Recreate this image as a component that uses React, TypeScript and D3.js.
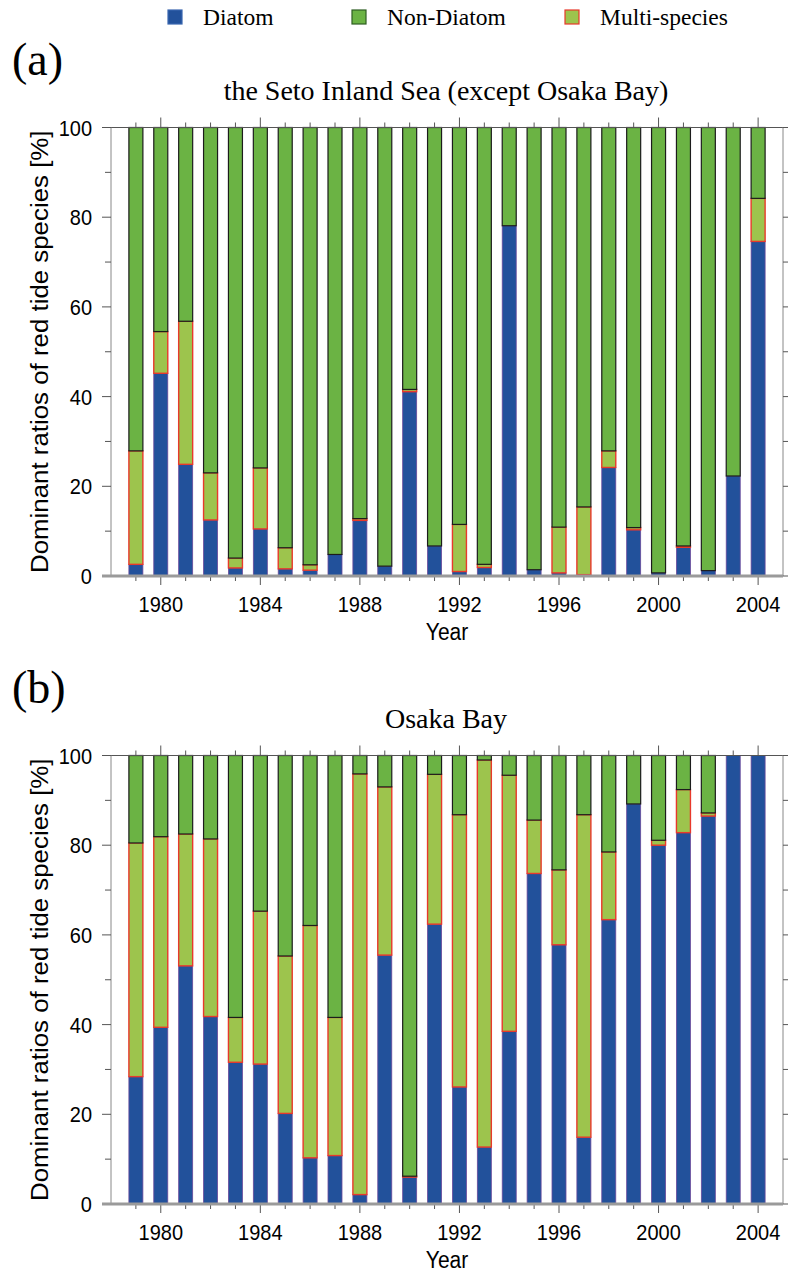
import React from "react";
import * as d3 from "d3";

const years = d3.range(1979, 2005);

// (a) the Seto Inland Sea (except Osaka Bay)
const diatomA = [2.6, 45.2, 24.9, 12.5, 1.8, 10.5, 1.6, 1.3, 4.8, 12.4, 2.2, 41.1, 6.7, 1.0, 1.9, 78.1, 1.4, 0.7, 0.3, 24.2, 10.3, 0.7, 6.4, 1.2, 22.3, 74.6];
const multiA = [25.3, 9.3, 31.9, 10.5, 2.2, 13.6, 4.7, 1.2, 0, 0.4, 0, 0.5, 0, 10.5, 0.7, 0, 0, 10.2, 15.1, 3.7, 0.5, 0, 0.3, 0, 0, 9.6];
const nonA = [72.1, 45.5, 43.2, 77.0, 96.0, 75.9, 93.7, 97.5, 95.2, 87.2, 97.8, 58.4, 93.3, 88.5, 97.4, 21.9, 98.6, 89.1, 84.6, 72.1, 89.2, 99.3, 93.3, 98.8, 77.7, 15.8];

// (b) Osaka Bay
const diatomB = [28.4, 39.4, 53.1, 41.8, 31.6, 31.2, 20.2, 10.3, 10.8, 2.1, 55.5, 6.0, 62.4, 26.1, 12.7, 38.5, 73.7, 57.8, 14.9, 63.4, 89.2, 80.0, 82.8, 86.5, 100, 100];
const multiB = [52.1, 42.5, 29.4, 39.6, 10.0, 34.1, 35.1, 51.8, 30.8, 93.8, 37.5, 0.2, 33.4, 60.7, 86.3, 57.1, 11.9, 16.7, 71.9, 15.1, 0, 1.1, 9.6, 0.7, 0, 0];
const nonB = [19.5, 18.1, 17.5, 18.6, 58.4, 34.7, 44.7, 37.9, 58.4, 4.1, 7.0, 93.8, 4.2, 13.2, 1.0, 4.4, 14.4, 25.5, 13.2, 21.5, 10.8, 18.9, 7.6, 12.8, 0, 0];

const keys = ["Diatom", "Multi-species", "Non-Diatom"];
const legendOrder = ["Diatom", "Non-Diatom", "Multi-species"];
const yTicks = [0, 20, 40, 60, 80, 100];
const xLabelYears = [1980, 1984, 1988, 1992, 1996, 2000, 2004];

const style: Record<string, { fill: string; stroke: string; sw: number }> = {
  Diatom: { fill: "#22519b", stroke: "#6a4a9c", sw: 0.8 },
  "Non-Diatom": { fill: "#6bb344", stroke: "#1c1c1c", sw: 1.2 },
  "Multi-species": { fill: "#9dc44d", stroke: "#e8392b", sw: 1.4 },
};

const W = 788;
const H = 1273;
const left = 111;
const right = 783;
const plotH = 448.5;
const sans = "'Liberation Sans', Arial, Helvetica, sans-serif";
const serif = "'Liberation Serif', 'Times New Roman', serif";

const x = d3.scaleLinear().domain([1978, 2005]).range([left, right]);
const barW = 14;

function Panel({ top, tag, title, diatom, multi, non }: { top: number; tag: string; title: string; diatom: number[]; multi: number[]; non: number[] }) {
  const y = d3.scaleLinear().domain([0, 100]).range([top + plotH, top]);
  const rows = years.map((yr, i) => ({ year: yr, Diatom: diatom[i], "Multi-species": multi[i], "Non-Diatom": non[i] }));
  const series = d3.stack<any>().keys(keys)(rows);
  const bottom = y(0);
  const ax = "#555";
  return (
    <g>
      <text x={12} y={top - 53} fontFamily={serif} fontSize={46}>{tag}</text>
      <text x={446} y={top - 28} fontFamily={serif} fontSize={28} textAnchor="middle">{title}</text>

      {/* bars */}
      {series.map((s) =>
        s.map((d, i) => {
          const h = y(d[0]) - y(d[1]);
          if (h <= 0.01) return null;
          const st = style[s.key];
          return (
            <rect key={s.key + i} x={x(years[i]) - barW / 2} y={y(d[1])} width={barW} height={h}
              fill={st.fill} stroke={st.stroke} strokeWidth={st.sw} />
          );
        })
      )}

      {/* frame lines */}
      <line x1={left - 9} x2={right} y1={y(100)} y2={y(100)} stroke={ax} strokeWidth={1} />
      <line x1={left} x2={left} y1={y(100)} y2={bottom} stroke="#888" strokeWidth={1} />
      <line x1={right} x2={right} y1={y(100)} y2={bottom} stroke="#888" strokeWidth={1} />

      {/* y ticks */}
      {d3.range(0, 101, 10).map((v) => {
        const len = v % 20 === 0 ? 9 : 6;
        return (
          <g key={"yt" + v}>
            <line x1={left - len} x2={left} y1={y(v)} y2={y(v)} stroke={ax} />
            <line x1={right} x2={right + len} y1={y(v)} y2={y(v)} stroke={ax} />
          </g>
        );
      })}
      {yTicks.map((v) => (
        <text key={"yl" + v} transform={`translate(92,${y(v) + 8}) scale(1,1.12)`} textAnchor="end" fontFamily={sans} fontSize={20}>{v}</text>
      ))}

      {/* x ticks */}
      {years.map((yr) => {
        const major = yr % 4 === 0;
        return (
          <g key={"xt" + yr}>
            <line x1={x(yr)} x2={x(yr)} y1={y(100)} y2={y(100) - (major ? 10 : 5)} stroke={ax} />
            <line x1={x(yr)} x2={x(yr)} y1={bottom} y2={bottom + (major ? 9 : 5)} stroke={ax} />
          </g>
        );
      })}
      <line x1={left - 9} x2={right} y1={bottom} y2={bottom} stroke="#9a9a9a" strokeWidth={3} />
      {xLabelYears.map((yr) => (
        <text key={"xl" + yr} transform={`translate(${x(yr)},${bottom + 36}) scale(1,1.12)`} textAnchor="middle" fontFamily={sans} fontSize={20}>{yr}</text>
      ))}
      <text transform={`translate(${(left + right) / 2},${bottom + 64}) scale(1,1.1)`} textAnchor="middle" fontFamily={sans} fontSize={21}>Year</text>
      <text transform={`translate(48,${top + plotH / 2}) rotate(-90) scale(1.077,1)`} textAnchor="middle" fontFamily={sans} fontSize={24}>
        Dominant ratios of red tide species [%]
      </text>
    </g>
  );
}

export default function App() {
  const legendX = [168, 352, 565];
  return (
    <svg width={W} height={H} style={{ position: "absolute", left: 0, top: 0, background: "#fff" }}>
      {legendOrder.map((k, i) => (
        <g key={k}>
          <rect x={legendX[i]} y={10} width={14} height={14} fill={style[k].fill} stroke={k === "Non-Diatom" ? "#2e5e22" : k === "Diatom" ? "#3a66b0" : style[k].stroke} strokeWidth={1.2} />
          <text x={legendX[i] + 35} y={25} fontFamily={serif} fontSize={23.5}>{k}</text>
        </g>
      ))}
      <Panel top={127.5} tag="(a)" title="the Seto Inland Sea (except Osaka Bay)" diatom={diatomA} multi={multiA} non={nonA} />
      <Panel top={755.5} tag="(b)" title="Osaka Bay" diatom={diatomB} multi={multiB} non={nonB} />
    </svg>
  );
}
